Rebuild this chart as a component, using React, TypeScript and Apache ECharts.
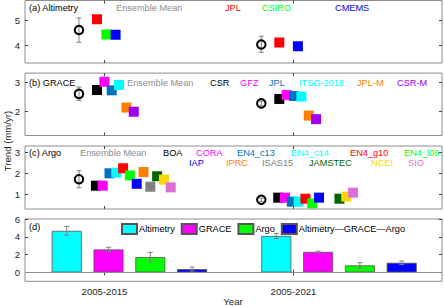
import React, { useEffect, useRef } from "react";
import * as echarts from "echarts";

// ---------------- DATA ----------------
const periods = ["2005-2015", "2005-2021"];

// (a) Altimetry
const altimetryProducts = ["JPL", "CSIRO", "CMEMS"];
const altimetry2015 = [5.05, 4.44, 4.43];
const altimetry2021 = [4.12, null, 3.97];
const altimetryEnsMean = [4.62, 4.04];
const altimetryEnsLow = [4.13, 3.73];
const altimetryEnsHigh = [5.1, 4.37];

// (b) GRACE
const graceProducts = ["CSR", "GFZ", "JPL", "ITSG-2018", "JPL-M", "CSR-M"];
const grace2015 = [2.73, 3.01, 2.72, 2.9, 2.14, 2.0];
const grace2021 = [2.43, 2.56, 2.53, 2.51, 1.87, 1.75];
const graceEnsMean = [2.6, 2.28];
const graceEnsLow = [2.38, 2.2];
const graceEnsHigh = [2.83, 2.36];

// (c) Argo
const argoProducts = ["BOA", "CORA", "EN4_c13", "EN4_c14", "EN4_g10", "EN4_l09", "IAP", "IPRC", "ISAS15", "JAMSTEC", "NCEI", "SIO"];
const argo2015 = [1.41, 1.41, 2.0, 2.03, 2.24, 1.9, 1.5, 2.06, 1.36, 1.86, 1.7, 1.33];
const argo2021 = [0.84, 0.84, 0.65, 0.65, 0.79, 0.57, 0.84, null, null, 0.79, 0.89, 1.08];
const argoEnsMean = [1.72, 0.74];
const argoEnsLow = [1.31, 0.66];
const argoEnsHigh = [2.12, 0.82];

// (d) Budget
const budgetNames = ["Altimetry", "GRACE", "Argo", "Altimetry\u2014GRACE\u2014Argo"];
const budgetAltimetry = [4.67, 4.1];
const budgetGrace = [2.58, 2.31];
const budgetArgo = [1.72, 0.79];
const budgetResidual = [0.37, 1.08];
const budgetAltimetryErr = [0.49, 0.28];
const budgetGraceErr = [0.24, 0.08];
const budgetArgoErr = [0.53, 0.3];
const budgetResidualErr = [0.23, 0.2];

// ---------------- STYLE / LAYOUT ----------------
const FONT = '"Liberation Sans", Arial, sans-serif';
const FS = 9.2;
const altimetryColors = ["#ff0000", "#00ff00", "#0000ff"];
const graceColors = ["#000000", "#ff00ff", "#0072bd", "#00ffff", "#ff8000", "#a100f2"];
const argoColors = ["#000000", "#ff00ff", "#0072bd", "#00ffff", "#ff0000", "#00ff00", "#0000ff", "#ff8000", "#808080", "#006400", "#ffd700", "#da70d6"];
const budgetColors = ["#00ffff", "#ff00ff", "#00ff00", "#0000ff"];

const XMIN = 0.5794;
const XMAX = 2.7857;
const groupBase = [1, 1.9646];
const ensOffset = -0.135;
const panelStart = [-0.0397, -0.0397, -0.0455];
const panelStep = [0.0492, 0.0389, 0.036];
const dStart = [0.8, 1.909];
const dStep = 0.2212;

const grids = [
  { top: 0.5, height: 62.5, min: 3.3, max: 5.8, ticks: [4, 5] },
  { top: 73.1, height: 62.4, min: 1.2, max: 3.3, ticks: [2, 3] },
  { top: 146, height: 63, min: 0.3, max: 3.3, ticks: [1, 2, 3] },
  { top: 219, height: 62.3, min: -1, max: 6, ticks: [0, 2, 4, 6] },
];

const labelRows: { t: string; x: number; y: number; c: string }[] = [
  { t: "(a) Altimetry", x: 29, y: 8, c: "#000" },
  { t: "Ensemble Mean", x: 116, y: 8, c: "#8c8c8c" },
  { t: altimetryProducts[0], x: 225, y: 8, c: altimetryColors[0] },
  { t: altimetryProducts[1], x: 262, y: 8, c: altimetryColors[1] },
  { t: altimetryProducts[2], x: 335, y: 8, c: altimetryColors[2] },
  { t: "(b) GRACE", x: 29, y: 82.5, c: "#000" },
  { t: "Ensemble Mean", x: 127, y: 82.5, c: "#8c8c8c" },
  { t: graceProducts[0], x: 210, y: 82.5, c: graceColors[0] },
  { t: graceProducts[1], x: 240, y: 82.5, c: graceColors[1] },
  { t: graceProducts[2], x: 269, y: 82.5, c: graceColors[2] },
  { t: graceProducts[3], x: 299, y: 82.5, c: graceColors[3] },
  { t: graceProducts[4], x: 357, y: 82.5, c: graceColors[4] },
  { t: graceProducts[5], x: 397, y: 82.5, c: graceColors[5] },
  { t: "(c) Argo", x: 29, y: 152.5, c: "#000" },
  { t: "Ensemble Mean", x: 80, y: 152.5, c: "#8c8c8c" },
  { t: argoProducts[0], x: 163, y: 152.5, c: argoColors[0] },
  { t: argoProducts[1], x: 196, y: 152.5, c: argoColors[1] },
  { t: argoProducts[2], x: 237, y: 152.5, c: argoColors[2] },
  { t: argoProducts[3], x: 291, y: 152.5, c: argoColors[3] },
  { t: argoProducts[4], x: 350, y: 152.5, c: argoColors[4] },
  { t: argoProducts[5], x: 404, y: 152.5, c: argoColors[5] },
  { t: argoProducts[6], x: 189, y: 162.5, c: argoColors[6] },
  { t: argoProducts[7], x: 226, y: 162.5, c: argoColors[7] },
  { t: argoProducts[8], x: 262, y: 162.5, c: argoColors[8] },
  { t: argoProducts[9], x: 309, y: 162.5, c: argoColors[9] },
  { t: argoProducts[10], x: 371, y: 162.5, c: argoColors[10] },
  { t: argoProducts[11], x: 408, y: 162.5, c: argoColors[11] },
  { t: "(d)", x: 29, y: 227, c: "#000" },
];

function errRender(capHalf: number) {
  return (params: any, api: any) => {
    const x = api.value(0);
    const lo = api.coord([x, api.value(1)]);
    const hi = api.coord([x, api.value(2)]);
    const st = { stroke: "#7f7f7f", lineWidth: 1 };
    return {
      type: "group",
      children: [
        { type: "line", shape: { x1: lo[0], y1: lo[1], x2: hi[0], y2: hi[1] }, style: st },
        { type: "line", shape: { x1: lo[0] - capHalf, y1: lo[1], x2: lo[0] + capHalf, y2: lo[1] }, style: st },
        { type: "line", shape: { x1: hi[0] - capHalf, y1: hi[1], x2: hi[0] + capHalf, y2: hi[1] }, style: st },
      ],
    };
  };
}

function buildOption() {
  const gridOpts: any[] = [];
  const xAxes: any[] = [];
  const yAxes: any[] = [];
  const tickStyle = { color: "#444", width: 1 };
  grids.forEach((g, p) => {
    gridOpts.push({ left: 25, right: 2, top: g.top, height: g.height, show: true, borderColor: "#8c8c8c", borderWidth: 1 });
    ["bottom", "top"].forEach((pos, k) => {
      xAxes.push({
        type: "value", gridIndex: p, position: pos, min: XMIN, max: XMAX,
        axisLine: { show: false }, splitLine: { show: false },
        axisTick: { show: true, inside: true, length: 3, customValues: [1, 2], lineStyle: tickStyle },
        axisLabel: {
          show: p === 3 && k === 0, customValues: [1, 2], margin: 5,
          formatter: (v: number) => periods[Math.round(v) - 1] ?? "",
          fontSize: 9.6, fontFamily: FONT, color: "#262626",
        },
      });
    });
    ["left", "right"].forEach((pos, k) => {
      yAxes.push({
        type: "value", gridIndex: p, position: pos, min: g.min, max: g.max,
        axisLine: { show: false }, splitLine: { show: false },
        axisTick: { show: true, inside: true, length: 3, customValues: g.ticks, lineStyle: tickStyle },
        axisLabel: {
          show: k === 0, customValues: g.ticks, margin: 5,
          fontSize: 9.6, fontFamily: FONT, color: "#262626",
        },
      });
    });
  });

  const series: any[] = [];
  const panels = [
    { names: altimetryProducts, v: [altimetry2015, altimetry2021], colors: altimetryColors, m: altimetryEnsMean, lo: altimetryEnsLow, hi: altimetryEnsHigh },
    { names: graceProducts, v: [grace2015, grace2021], colors: graceColors, m: graceEnsMean, lo: graceEnsLow, hi: graceEnsHigh },
    { names: argoProducts, v: [argo2015, argo2021], colors: argoColors, m: argoEnsMean, lo: argoEnsLow, hi: argoEnsHigh },
  ];
  panels.forEach((pn, p) => {
    pn.names.forEach((name, i) => {
      const data: any[] = [];
      pn.v.forEach((arr, gi) => {
        const val = arr[i];
        if (val != null) data.push([groupBase[gi] + panelStart[p] + i * panelStep[p], val]);
      });
      series.push({
        type: "scatter", name: name + "_" + p, xAxisIndex: 2 * p, yAxisIndex: 2 * p,
        symbol: "rect", symbolSize: 10, data, z: 3 + i * 0.01,
        itemStyle: { color: pn.colors[i], opacity: 1 },
      });
    });
    const ensX = groupBase.map((b) => b + ensOffset);
    series.push({
      type: "custom", xAxisIndex: 2 * p, yAxisIndex: 2 * p, z: 4,
      renderItem: errRender(2.5), encode: { x: 0, y: [1, 2] },
      data: ensX.map((x, gi) => [x, pn.lo[gi], pn.hi[gi]]),
    });
    series.push({
      type: "scatter", xAxisIndex: 2 * p, yAxisIndex: 2 * p, z: 5,
      symbol: "circle", symbolSize: 8.5,
      itemStyle: { color: "rgba(0,0,0,0)", borderColor: "#000", borderWidth: 2, opacity: 1 },
      data: ensX.map((x, gi) => [x, pn.m[gi]]),
    });
  });

  const budVals = [budgetAltimetry, budgetGrace, budgetArgo, budgetResidual];
  const budErrs = [budgetAltimetryErr, budgetGraceErr, budgetArgoErr, budgetResidualErr];
  budgetNames.forEach((name, k) => {
    series.push({
      type: "bar", name, xAxisIndex: 6, yAxisIndex: 6, barWidth: 30, barGap: "-100%",
      itemStyle: { color: budgetColors[k], borderColor: "#555", borderWidth: 0.8 },
      data: periods.map((_, gi) => [dStart[gi] + k * dStep, budVals[k][gi]]),
      ...(k === 0
        ? {
            markLine: {
              silent: true, symbol: "none", label: { show: false },
              lineStyle: { color: "#8c8c8c", type: "solid", width: 1 },
              data: [{ yAxis: 0 }],
            },
          }
        : {}),
    });
  });
  const errData: any[] = [];
  budgetNames.forEach((_, k) => {
    periods.forEach((__, gi) => {
      const v = budVals[k][gi];
      const e = budErrs[k][gi];
      errData.push([dStart[gi] + k * dStep, v - e, v + e]);
    });
  });
  series.push({
    type: "custom", xAxisIndex: 6, yAxisIndex: 6, z: 6,
    renderItem: errRender(2.5), encode: { x: 0, y: [1, 2] }, data: errData,
  });

  const graphic: any[] = labelRows.map((l) => ({
    type: "text", x: l.x, y: l.y, silent: true,
    style: { text: l.t, fill: l.c, font: `${FS}px ${FONT}`, align: "left", verticalAlign: "middle" },
  }));
  graphic.push({
    type: "text", x: 7, y: 141, rotation: Math.PI / 2, silent: true,
    style: { text: "Trend (mm/yr)", fill: "#262626", font: `9.6px ${FONT}`, align: "center", verticalAlign: "middle" },
  });
  graphic.push({
    type: "text", x: 233, y: 301, silent: true,
    style: { text: "Year", fill: "#262626", font: `9.6px ${FONT}`, align: "center", verticalAlign: "middle" },
  });

  return {
    animation: false,
    backgroundColor: "#fff",
    textStyle: { fontFamily: FONT },
    grid: gridOpts,
    xAxis: xAxes,
    yAxis: yAxes,
    legend: {
      data: budgetNames, left: 121, top: 223, itemWidth: 15, itemHeight: 10, itemGap: 6,
      icon: "rect", padding: 0,
      textStyle: { fontSize: FS, fontFamily: FONT, color: "#000", padding: [0, 0, 0, -3] },
    },
    graphic,
    series,
  };
}

export default function App() {
  const ref = useRef<HTMLDivElement>(null);
  useEffect(() => {
    if (!ref.current) return;
    const chart = echarts.init(ref.current, undefined, { renderer: "svg" });
    chart.setOption(buildOption() as any);
    return () => chart.dispose();
  }, []);
  return <div ref={ref} style={{ position: "absolute", left: 0, top: 0, width: 444, height: 306 }} />;
}
